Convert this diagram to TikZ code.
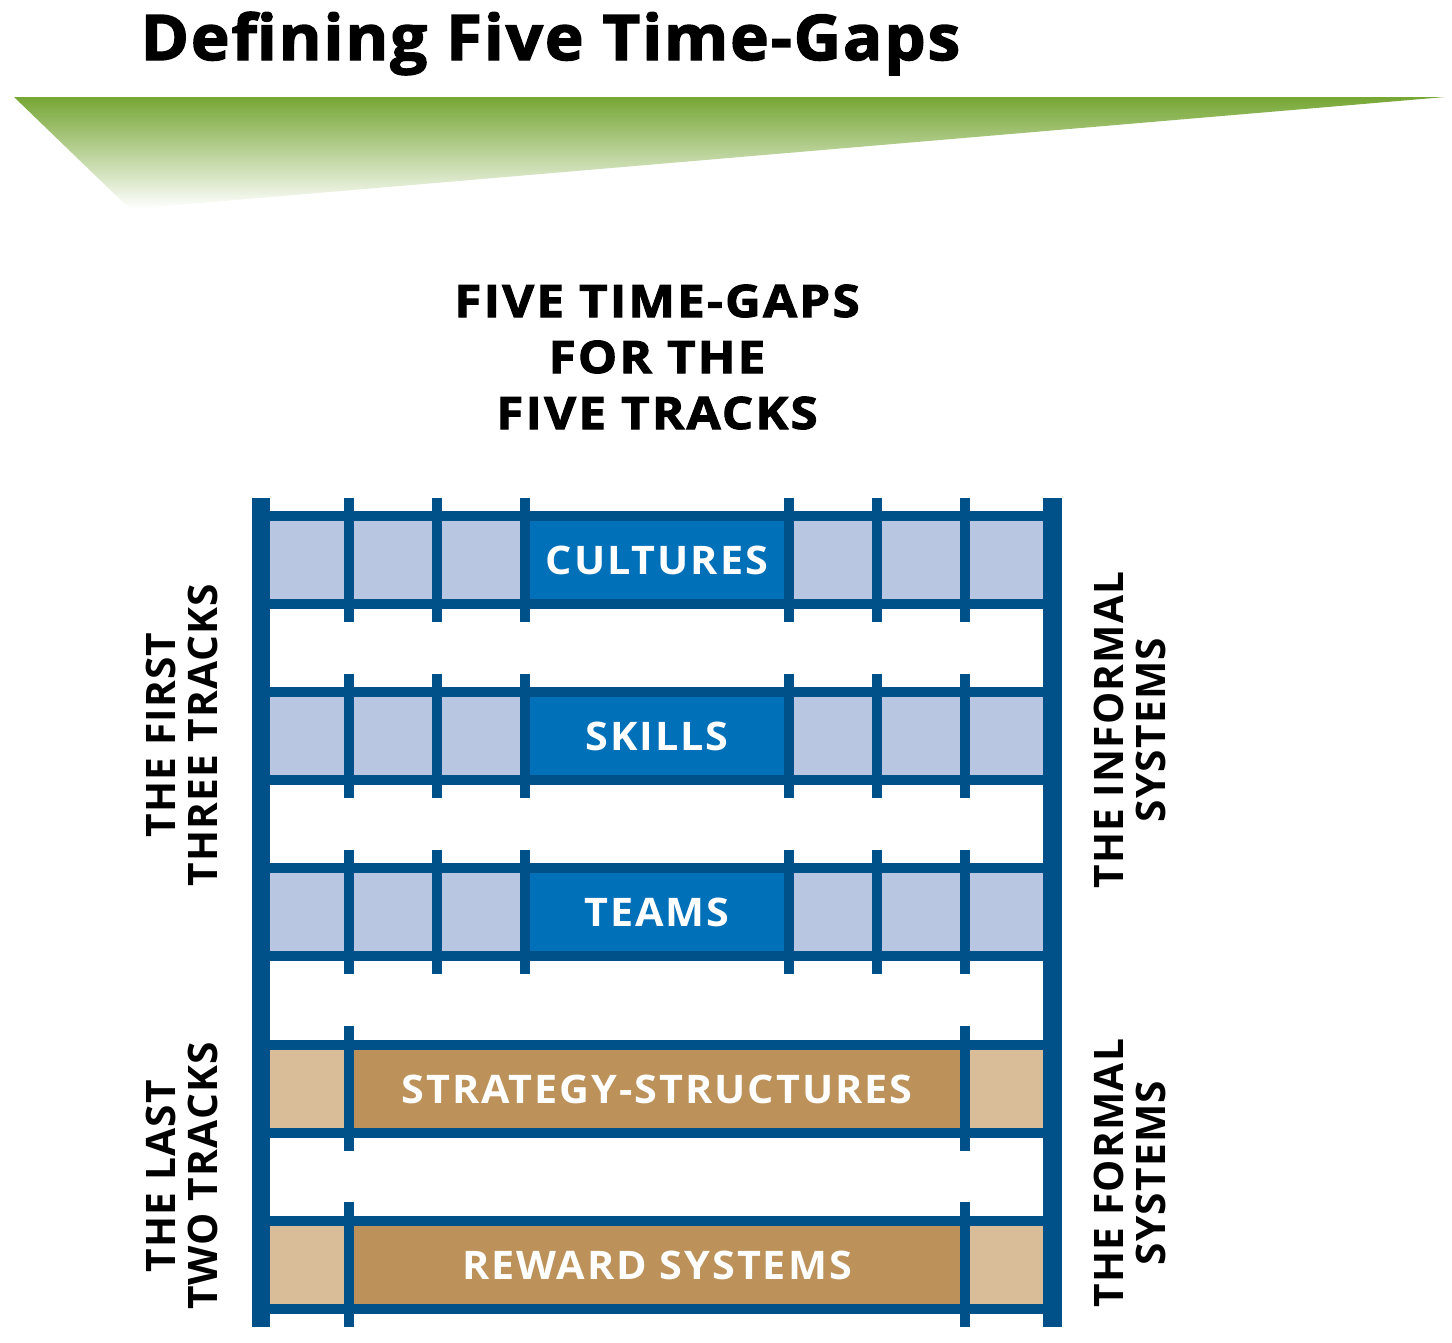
\documentclass[tikz,border=0pt]{standalone}
\usepackage{fontspec}
\setmainfont{Open Sans}
\newfontfamily\heavyfont[BoldFeatures={FakeBold=2.2}]{Open Sans}
\usepackage{xcolor}

\definecolor{railblue}{RGB}{0,80,138}
\definecolor{trackblue}{RGB}{0,112,184}
\definecolor{paleblue}{RGB}{184,198,226}
\definecolor{paletan}{RGB}{217,188,152}
\definecolor{tracktan}{RGB}{188,146,90}
\definecolor{wedgegreen}{RGB}{118,166,52}

\begin{document}
\begin{tikzpicture}[y=-1cm,font=\bfseries,
    headline/.style={anchor=base,font=\heavyfont\bfseries\fontsize{12.75}{15}\selectfont\addfontfeatures{FakeStretch=1.1,LetterSpace=5}},
    tracklabel/.style={white,font=\bfseries\fontsize{11.2}{12}\selectfont\addfontfeatures{FakeStretch=1.05,LetterSpace=5}},
    sidelabel/.style={rotate=90,align=center,font=\bfseries\fontsize{11.56}{12.2}\selectfont\addfontfeatures{LetterSpace=3}}]
    \useasboundingbox (0,0) rectangle (14.52,13.42);

    % Title banner
    \shade[top color=wedgegreen,bottom color=white] (0.14,0.97) -- (14.45,0.97) -- (1.30,2.09) -- cycle;
    \node[anchor=base west,inner sep=0,font=\heavyfont\bfseries\fontsize{17.9}{20}\selectfont\addfontfeatures{FakeStretch=1.04,LetterSpace=3}] (title) at (1.40,0.60) {Defining Five Time-Gaps};

    % Heading
    \node[headline] (headone) at (6.57,3.17) {FIVE TIME-GAPS};
    \node[headline] (headtwo) at (6.57,3.73) {FOR THE};
    \node[headline] (headthree) at (6.57,4.29) {FIVE TRACKS};

    % Side rails
    \fill[railblue] (2.52,4.98) rectangle (2.70,13.27);
    \fill[railblue] (10.43,4.98) rectangle (10.62,13.27);

    % Informal tracks (blue)
    \foreach \ty/\lbl/\nm in {5.11/CULTURES/cultures, 6.87/SKILLS/skills, 8.63/TEAMS/teams} {
      \fill[railblue] (2.70,\ty) rectangle (10.43,\ty+0.98);
      \foreach \a/\b in {2.70/3.44, 3.54/4.32, 4.42/5.20, 7.94/8.72, 8.82/9.60, 9.70/10.43}
        \fill[paleblue] (\a,\ty+0.10) rectangle (\b,\ty+0.88);
      \fill[trackblue] (5.30,\ty+0.10) rectangle (7.84,\ty+0.88);
      \foreach \d in {3.49,4.37,5.25,7.89,8.77,9.65}
        \fill[railblue] (\d-0.05,\ty-0.13) rectangle (\d+0.05,\ty+1.11);
      \node[tracklabel] (\nm) at (6.57,\ty+0.49) {\lbl};
    }

    % Formal tracks (tan)
    \foreach \ty/\lbl/\nm in {10.40/STRATEGY-STRUCTURES/strategy, 12.16/REWARD SYSTEMS/reward} {
      \fill[railblue] (2.70,\ty) rectangle (10.43,\ty+0.98);
      \fill[paletan] (2.70,\ty+0.10) rectangle (3.44,\ty+0.88);
      \fill[paletan] (9.70,\ty+0.10) rectangle (10.43,\ty+0.88);
      \fill[tracktan] (3.54,\ty+0.10) rectangle (9.60,\ty+0.88);
      \foreach \d in {3.49,9.65}
        \fill[railblue] (\d-0.05,\ty-0.14) rectangle (\d+0.05,\ty+1.11);
      \node[tracklabel] (\nm) at (6.57,\ty+0.49) {\lbl};
    }

    % Side labels
    \node[sidelabel] (firstthree) at (1.82,7.35) {THE FIRST\\THREE TRACKS};
    \node[sidelabel] (lasttwo) at (1.82,11.76) {THE LAST\\TWO TRACKS};
    \node[sidelabel] (informal) at (11.30,7.30) {THE INFORMAL\\SYSTEMS};
    \node[sidelabel] (formal) at (11.30,11.73) {THE FORMAL\\SYSTEMS};
  \end{tikzpicture}
\end{document}
